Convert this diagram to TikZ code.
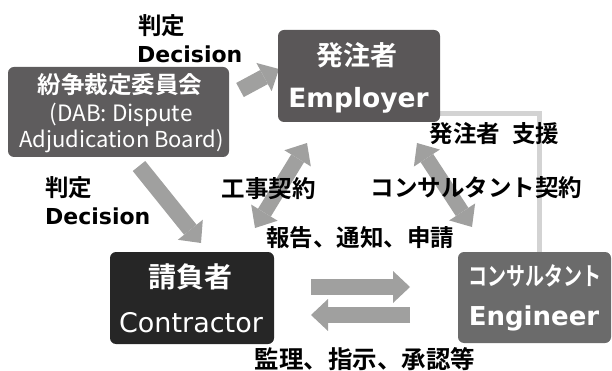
\documentclass[tikz,border=0pt]{standalone}
\usepackage{fontspec}
\usepackage{graphicx}
\newfontfamily\jp{Noto Sans CJK JP}
\newfontfamily\jpb{Noto Sans CJK JP Bold}
\newfontfamily\dv{DejaVu Sans}
\newfontfamily\dvb{DejaVu Sans Bold}
\usetikzlibrary{arrows.meta}
\definecolor{arrowgray}{HTML}{A0A09F}
\definecolor{dabc}{HTML}{5E5C5D}
\definecolor{empc}{HTML}{5A5758}
\definecolor{conc}{HTML}{262626}
\definecolor{engc}{HTML}{6B6B6B}
\definecolor{linegray}{HTML}{D3D3D3}
\begin{document}
\begin{tikzpicture}[x=1pt,y=-1pt,
  box/.style={rounded corners=6pt, inner sep=0pt, draw=none},
  wtxt/.style={text=white, inner sep=0pt},
  lbl/.style={text=black, inner sep=0pt, font=\jpb\fontsize{23.5}{26}\selectfont},
  dec/.style={text=black, inner sep=0pt, font=\dvb\fontsize{22}{26}\selectfont},
  blk/.style={arrowgray, line width=16pt, -{Triangle[width=32pt,length=17pt,line width=0pt]}},
  dblk/.style={arrowgray, line width=15pt, {Triangle[width=31pt,length=18pt,line width=0pt]}-{Triangle[width=31pt,length=18pt,line width=0pt]}}
]
\useasboundingbox (0,0) rectangle (612,371);

% box positions
\path (118.5,112) coordinate (pdab) (359,76) coordinate (pemp) (192,298) coordinate (pcon) (534.5,297.5) coordinate (peng);

% light connector
\node[inner sep=0pt, minimum width=162pt, minimum height=92pt] (empb) at (pemp) {};
\node[inner sep=0pt, minimum width=153pt, minimum height=91pt] (engb) at (peng) {};
\coordinate (bend) at (539,114);
\draw[linegray, line width=5pt] (empb.east |- bend) -- (bend) -- (bend |- engb.north);

% arrows
\coordinate (a1s) at (240,90);  \coordinate (a1e) at (279,69);
\coordinate (a2s) at (139,166); \coordinate (a2e) at (201,243);
\coordinate (a3s) at (307,143); \coordinate (a3e) at (255,228);
\coordinate (a4s) at (417,143); \coordinate (a4e) at (472,227);
\coordinate (a5s) at (311,287); \coordinate (a5e) at (410,287);
\coordinate (a6s) at (410,315); \coordinate (a6e) at (311,315);
\draw[blk] (a1s) -- (a1e);
\draw[blk] (a2s) -- (a2e);
\draw[dblk] (a3s) -- (a3e);
\draw[dblk] (a4s) -- (a4e);
\draw[blk] (a5s) -- (a5e);
\draw[blk] (a6s) -- (a6e);

% boxes
\node[box, fill=dabc, minimum width=221pt, minimum height=90pt] (dab) at (pdab) {};
\node[box, fill=empc, minimum width=162pt, minimum height=92pt] (emp) at (pemp) {};
\node[box, fill=conc, minimum width=164pt, minimum height=92pt] (con) at (pcon) {};
\node[box, fill=engc, minimum width=153pt, minimum height=91pt] (eng) at (peng) {};

% box texts
\node[wtxt, font=\jpb\fontsize{23.5}{26}\selectfont] (dab1) at (120,85) {紛争裁定委員会};
\node[wtxt, font=\jp\fontsize{22.5}{26}\selectfont, anchor=base] (dab2) at (121,122) {(DAB: Dispute};
\node[wtxt, font=\jp\fontsize{22}{26}\selectfont, anchor=base] (dab3) at (121.5,148) {Adjudication Board)};
\node[wtxt, font=\jpb\fontsize{27}{30}\selectfont] (empj) at (356.5,55) {発注者};
\node[wtxt, font=\dvb\fontsize{26.5}{30}\selectfont, anchor=base] (empe) at (358.5,108) {Employer};
\node[wtxt, font=\jpb\fontsize{28}{30}\selectfont] (conj) at (190,277) {請負者};
\node[wtxt, font=\dv\fontsize{27}{30}\selectfont, anchor=base] (cone) at (191,332) {Contractor};
\node[wtxt, font=\jpb\fontsize{25}{28}\selectfont] (engj) at (535,276) {\scalebox{0.76}[1]{コンサルタント}};
\node[wtxt, font=\dvb\fontsize{26}{30}\selectfont, anchor=base] (enge) at (534,325) {Engineer};

% labels
\node[lbl, anchor=west] (l1) at (138,25.5) {判定};
\node[dec, anchor=base west] (l2) at (137,63) {Decision};
\node[lbl, anchor=west] (l3) at (45,187.5) {判定};
\node[dec, anchor=base west] (l4) at (45,225) {Decision};
\node[lbl] (l5) at (268.5,188.5) {工事契約};
\node[lbl] (l6) at (476.5,188) {コンサルタント契約};
\node[lbl] (l7) at (494.5,133.5) {発注者\hspace{12pt}支援};
\node[lbl] (l8) at (360,237.5) {報告、通知、申請};
\node[lbl, font=\jpb\fontsize{24.5}{26}\selectfont] (l9) at (365,359.5) {監理、指示、承認等};
\end{tikzpicture}
\end{document}
